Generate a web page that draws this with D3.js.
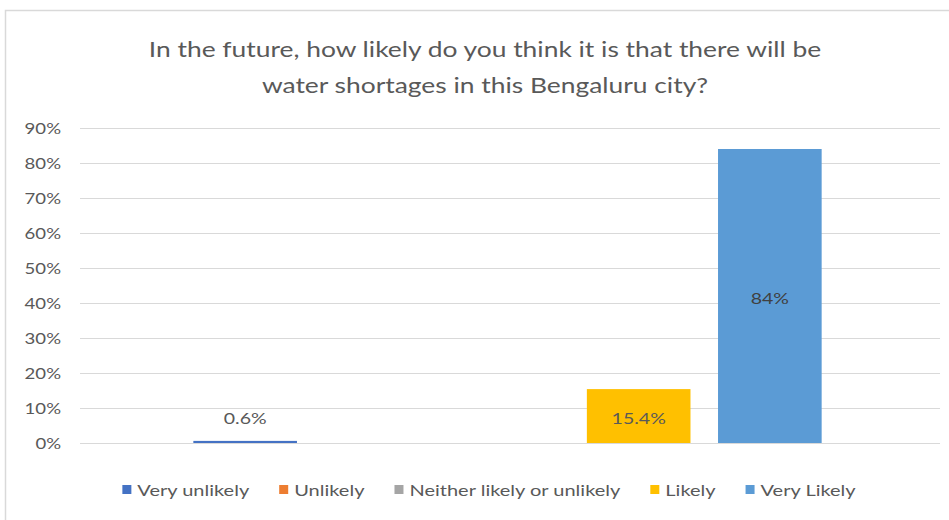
<!DOCTYPE html>
<html>
<head>
<meta charset="utf-8">
<script src="https://cdn.jsdelivr.net/npm/d3@7"></script>
<style>
  html, body { margin: 0; padding: 0; background: #ffffff; }
  svg { display: block; }
</style>
</head>
<body>
<svg id="chart" width="949" height="520"></svg>
<script>
const titleLines = ["In the future, how likely do you think it is that there will be", "water shortages in this Bengaluru city?"];
const seriesNames = ["Very unlikely", "Unlikely", "Neither likely or unlikely", "Likely", "Very Likely"];
const seriesValues = [0.6, 0, 0, 15.4, 84];
const valueLabels = ["0.6%", "", "", "15.4%", "84%"];
const seriesColors = ["#4472C4", "#ED7D31", "#A5A5A5", "#FFC000", "#5B9BD5"];
const yTicks = [0, 10, 20, 30, 40, 50, 60, 70, 80, 90];

const svg = d3.select("#chart");
const font = "Lato, 'Open Sans', sans-serif";
const textColor = "#595959";

// horizontally stretched text helper (reference typeface is wider)
function stretchedText(parent, x, y, str, size, sx, anchor, color) {
  const g = parent.append("g").attr("transform", `translate(${x},${y}) scale(${sx},1)`);
  const t = g.append("text").attr("x", 0).attr("y", 0)
    .attr("text-anchor", anchor).attr("font-family", font)
    .attr("font-size", size).attr("fill", color).text(str);
  return { g, t };
}

// chart frame
svg.append("rect").attr("x", 5.5).attr("y", 10.5).attr("width", 960).attr("height", 530)
  .attr("fill", "#ffffff").attr("stroke", "#d9d9d9").attr("stroke-width", 1.5);

const plot = { left: 80, right: 940, top: 128, bottom: 443 };

const y = d3.scaleLinear().domain([0, 90]).range([plot.bottom, plot.top]);
const x = d3.scaleBand().domain(seriesNames).range([plot.left - 3, plot.right - 2])
  .paddingInner(0.21).paddingOuter(0.887);

// title
const titleG = svg.append("g");
titleLines.forEach((line, i) => {
  stretchedText(titleG, 485, 57 + i * 36, line, 22, 1.2, "middle", textColor);
});

// gridlines
svg.append("g").selectAll("line").data(yTicks).join("line")
  .attr("x1", plot.left).attr("x2", plot.right)
  .attr("y1", d => Math.round(y(d)) + 0.5).attr("y2", d => Math.round(y(d)) + 0.5)
  .attr("stroke", "#d9d9d9").attr("stroke-width", 1);

// y axis labels
const yAxis = d3.axisLeft(y).tickValues(yTicks).tickFormat(d => d + "%").tickSize(0).tickPadding(0);
const yg = svg.append("g").attr("transform", `translate(${plot.left - 19},0)`).call(yAxis);
yg.select(".domain").remove();
yg.selectAll(".tick text")
  .attr("font-family", font).attr("font-size", 16).attr("fill", textColor)
  .attr("transform", "scale(1.16,1)").attr("dy", "0.36em");

// bars
svg.append("g").selectAll("rect").data(seriesNames).join("rect")
  .attr("x", d => x(d)).attr("width", x.bandwidth())
  .attr("y", (d, i) => y(seriesValues[i]))
  .attr("height", (d, i) => plot.bottom - y(seriesValues[i]))
  .attr("fill", (d, i) => seriesColors[i]);

// value labels
const labG = svg.append("g");
seriesNames.forEach((d, i) => {
  if (!valueLabels[i]) return;
  const v = seriesValues[i];
  const h = plot.bottom - y(v);
  const ly = h > 30 ? y(v) + h / 2 + 8 : y(v) - 17;
  stretchedText(labG, x(d) + x.bandwidth() / 2, ly, valueLabels[i], 15.5, 1.26, "middle",
    i === 4 ? "#404040" : textColor);
});

// legend
const legendY = 490;
const sxLeg = 1.25;
const leg = svg.append("g");
const items = [];
seriesNames.forEach((d, i) => {
  const g = leg.append("g");
  g.append("rect").attr("width", 9).attr("height", 9).attr("y", legendY - 5)
    .attr("fill", seriesColors[i]);
  const st = stretchedText(g, 15, legendY + 5.5, d, 16, sxLeg, "start", textColor);
  const w = 15 + st.t.node().getComputedTextLength() * sxLeg;
  items.push({ g, w });
});
const gap = 30;
const total = d3.sum(items, d => d.w) + gap * (items.length - 1);
let cx = 489 - total / 2;
items.forEach(it => { it.g.attr("transform", `translate(${cx},0)`); cx += it.w + gap; });
</script>
</body>
</html>
